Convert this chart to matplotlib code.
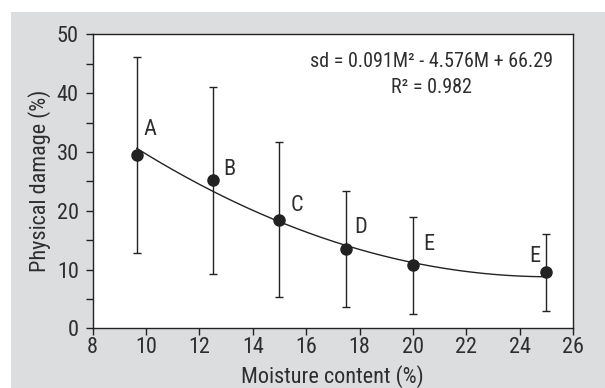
import numpy as np
import matplotlib.pyplot as plt
from matplotlib.patches import Rectangle

plt.rcParams['font.family'] = ['Roboto Condensed', 'Liberation Sans', 'DejaVu Sans']

# data
moisture = [9.65, 12.5, 15.0, 17.5, 20.0, 25.0]
damage = [29.5, 25.2, 18.5, 13.5, 10.7, 9.5]
err_top = [46.2, 41.1, 31.7, 23.4, 18.9, 16.1]
err_bottom = [12.8, 9.2, 5.4, 3.6, 2.4, 3.0]
groups = ['A', 'B', 'C', 'D', 'E', 'E']
coef = [0.091, -4.576, 66.29]   # sd = a*M^2 + b*M + c
r2 = 0.982

# label offsets in points (dx, dy)
offsets = [(4.8, 14.4), (7.2, 3.4), (7.7, 6.3), (5.8, 11.5), (7.7, 11.2), (-12.2, 7.8)]

ink = '#222222'
txt = '#2e2e2e'

fig = plt.figure(figsize=(6.05, 3.88), dpi=100)
fig.patch.set_facecolor('white')
bg = Rectangle((11.5 / 605, 0), 1, 1 - 11.5 / 388, transform=fig.transFigure,
               facecolor='#dcdddf', edgecolor='none', zorder=-10)
fig.add_artist(bg)

ax = fig.add_axes([92.7 / 605, 1 - 328.3 / 388, (573 - 92.7) / 605, (328.3 - 34.3) / 388])
ax.set_facecolor('white')

m = np.array(moisture)
d = np.array(damage)
yerr = [d - np.array(err_bottom), np.array(err_top) - d]
ax.errorbar(m, d, yerr=yerr, fmt='o', color=ink, ms=8, elinewidth=1,
            capsize=3, capthick=1, zorder=3)

mm = np.linspace(m.min(), m.max(), 200)
ax.plot(mm, np.polyval(coef, mm), color=ink, lw=1, zorder=2)

for x, y, g, (dx, dy) in zip(moisture, damage, groups, offsets):
    ax.annotate(g, (x, y), xytext=(dx, dy), textcoords='offset points',
                ha='left', va='baseline', fontsize=16, color=txt)

eq = 'sd = %.3fM² - %.3fM + %.2f' % (coef[0], -coef[1], coef[2])
ax.text(0.705, 0.89, eq, transform=ax.transAxes, ha='center', va='baseline',
        fontsize=14.5, color=txt)
ax.text(0.705, 0.80, 'R² = %.3f' % r2, transform=ax.transAxes, ha='center',
        va='baseline', fontsize=14.5, color=txt)

ax.set_xlim(8, 26)
ax.set_ylim(0, 50)
ax.set_xticks(np.arange(8, 27, 2))
ax.set_yticks(np.arange(0, 51, 10))
ax.set_yticks(np.arange(5, 50, 10), minor=True)
ax.tick_params(axis='both', which='both', direction='out', colors=ink,
               labelcolor=txt, labelsize=16, width=1, length=5)
ax.tick_params(axis='x', pad=1)
ax.tick_params(axis='y', pad=5)
for s in ax.spines.values():
    s.set_color(ink)
    s.set_linewidth(1)

ax.set_xlabel('Moisture content (%)', fontsize=16, color=txt, labelpad=5)
ax.set_ylabel('Physical damage (%)', fontsize=16, color=txt, labelpad=4)

fig.savefig('out.png', dpi=100, facecolor=fig.get_facecolor())
